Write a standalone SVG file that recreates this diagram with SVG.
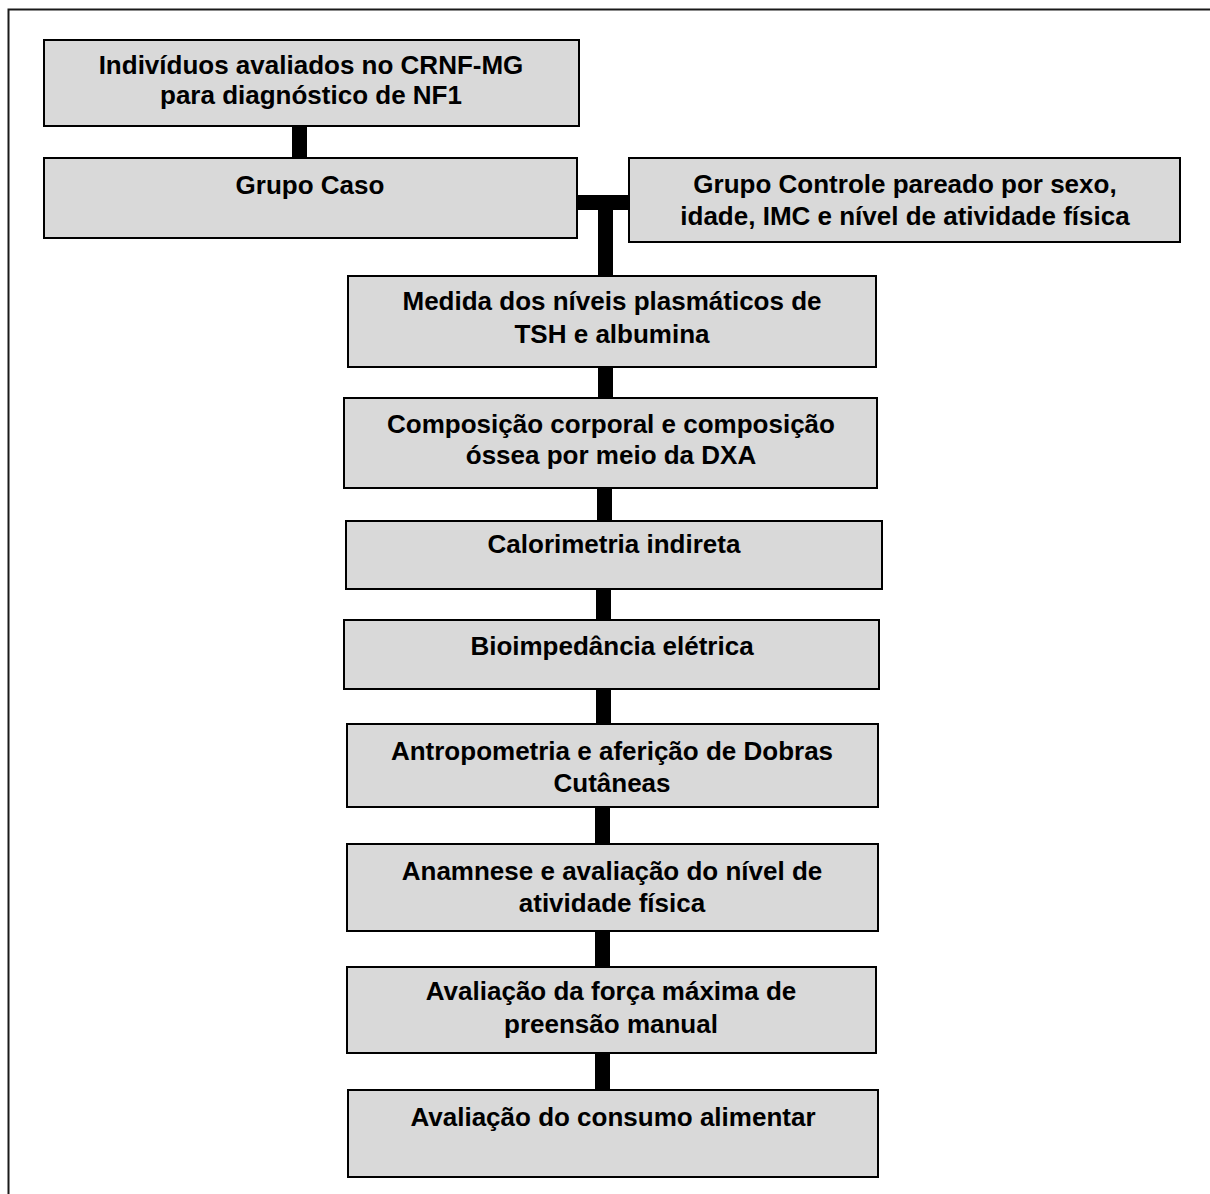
<svg xmlns="http://www.w3.org/2000/svg" width="1210" height="1194" viewBox="0 0 1210 1194">
<style>
.box{fill:#d9d9d9;stroke:#000;stroke-width:2}
.t{font-family:"Liberation Sans",Arial,sans-serif;font-weight:bold;font-size:26px;fill:#000;text-anchor:middle}
.bar{fill:#000}
</style>
<rect x="0" y="0" width="1210" height="1194" fill="#fff"/>
<path d="M8.5 1194 V9.5 H1210" fill="none" stroke="#1a1a1a" stroke-width="2"/>
<g id="connectors">
<rect class="bar" x="292" y="126" width="15" height="32"/>
<rect class="bar" x="577" y="195" width="52" height="15"/>
<rect class="bar" x="598" y="210" width="15" height="66"/>
<rect class="bar" x="598" y="367" width="15" height="31"/>
<rect class="bar" x="597" y="488" width="15" height="33"/>
<rect class="bar" x="596" y="589" width="15" height="31"/>
<rect class="bar" x="596" y="689" width="15" height="35"/>
<rect class="bar" x="595" y="807" width="15" height="37"/>
<rect class="bar" x="595" y="931" width="15" height="36"/>
<rect class="bar" x="595" y="1053" width="15" height="37"/>
</g>
<g id="n1"><rect class="box" x="44" y="40" width="535" height="86"/><text class="t" x="311" y="74">Indivíduos avaliados no CRNF-MG</text><text class="t" x="311" y="104">para diagnóstico de NF1</text></g>
<g id="n2"><rect class="box" x="44" y="158" width="533" height="80"/><text class="t" x="310" y="194">Grupo Caso</text></g>
<g id="n3"><rect class="box" x="629" y="158" width="551" height="84"/><text class="t" x="905" y="193">Grupo Controle pareado por sexo,</text><text class="t" x="905" y="225">idade, IMC e nível de atividade física</text></g>
<g id="n4"><rect class="box" x="348" y="276" width="528" height="91"/><text class="t" x="612" y="310">Medida dos níveis plasmáticos de</text><text class="t" x="612" y="343">TSH e albumina</text></g>
<g id="n5"><rect class="box" x="344" y="398" width="533" height="90"/><text class="t" x="611" y="433">Composição corporal e composição</text><text class="t" x="611" y="464">óssea por meio da DXA</text></g>
<g id="n6"><rect class="box" x="346" y="521" width="536" height="68"/><text class="t" x="614" y="553">Calorimetria indireta</text></g>
<g id="n7"><rect class="box" x="344" y="620" width="535" height="69"/><text class="t" x="612" y="655">Bioimpedância elétrica</text></g>
<g id="n8"><rect class="box" x="347" y="724" width="531" height="83"/><text class="t" x="612" y="760">Antropometria e aferição de Dobras</text><text class="t" x="612" y="792">Cutâneas</text></g>
<g id="n9"><rect class="box" x="347" y="844" width="531" height="87"/><text class="t" x="612" y="880">Anamnese e avaliação do nível de</text><text class="t" x="612" y="912">atividade física</text></g>
<g id="n10"><rect class="box" x="347" y="967" width="529" height="86"/><text class="t" x="611" y="1000">Avaliação da força máxima de</text><text class="t" x="611" y="1033">preensão manual</text></g>
<g id="n11"><rect class="box" x="348" y="1090" width="530" height="87"/><text class="t" x="613" y="1126">Avaliação do consumo alimentar</text></g>
</svg>
